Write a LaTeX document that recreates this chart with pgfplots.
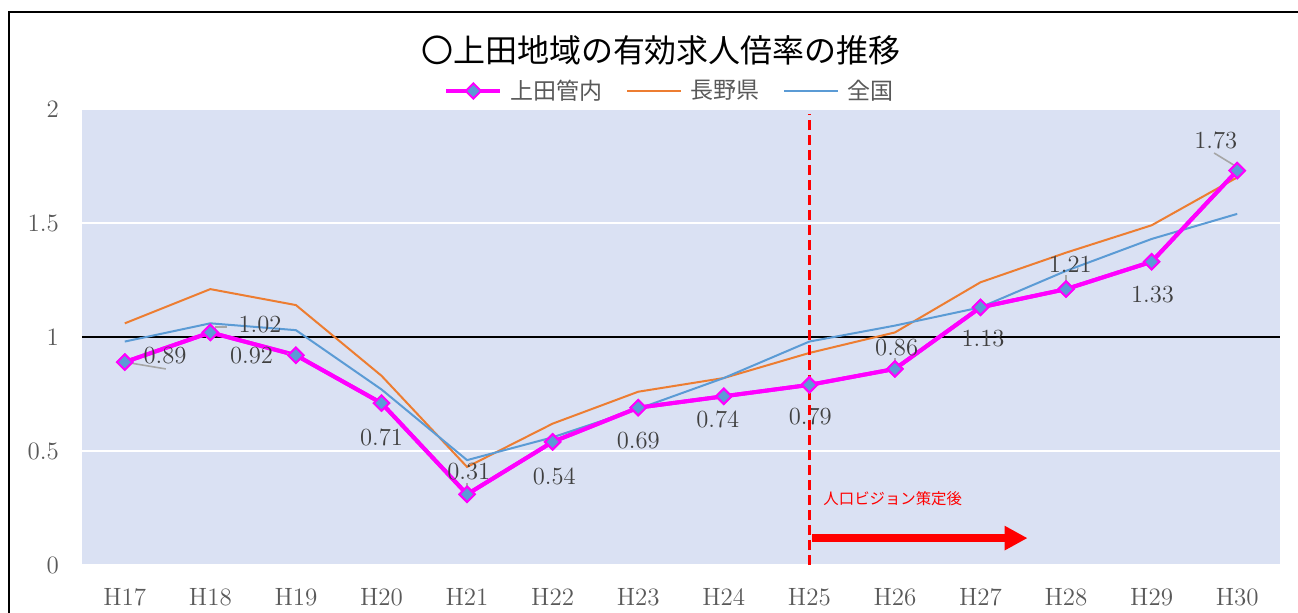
\documentclass[border=0pt]{standalone}
\usepackage{pgfplots}
\pgfplotsset{compat=1.18}
\usepackage{fontspec}
\newfontfamily\cjk{Noto Sans CJK JP}
\usetikzlibrary{arrows.meta}
\definecolor{plotbg}{HTML}{DAE1F3}
\definecolor{ueda}{HTML}{FF00FF}
\definecolor{nagano}{HTML}{ED7D31}
\definecolor{zenkoku}{HTML}{5B9BD5}
\definecolor{ticktext}{HTML}{595959}
\definecolor{lbltext}{HTML}{404040}
\definecolor{leader}{HTML}{A6A6A6}
\begin{document}
\begin{tikzpicture}
\useasboundingbox (-41pt,-23.5pt) rectangle (608pt,282.5pt);
\draw[black, line width=0.7pt] (-36.5pt,-30pt) -- (-36.5pt,276.5pt) -- (620pt,276.5pt);
\begin{axis}[
  at={(0,0)}, anchor=south west,
  scale only axis, width=599pt, height=228pt,
  xmin=-0.5, xmax=13.5, ymin=0, ymax=2,
  xtick={0,...,13},
  xticklabels={H17,H18,H19,H20,H21,H22,H23,H24,H25,H26,H27,H28,H29,H30},
  ytick={0,0.5,1,1.5,2},
  yticklabels={0,0.5,1,1.5,2},
  axis line style={draw=none},
  major tick length=0pt,
  axis background/.style={fill=plotbg},
  ymajorgrids,
  grid style={white, line width=1pt},
  extra y ticks={1},
  extra y tick labels={},
  extra y tick style={grid style={black, line width=1pt}},
  tick label style={font=\fontsize{12.5}{14}\selectfont, text=ticktext},
  yticklabel style={xshift=-8pt},
  xticklabel style={yshift=-8pt},
  legend columns=3,
  legend style={at={(0.4915,1.0395)}, anchor=center, draw=none, fill=none,
    font=\cjk\fontsize{11.5}{13}\selectfont, text=ticktext,
    /tikz/every even column/.append style={column sep=10pt},
    /tikz/every odd column/.append style={column sep=2pt},
    inner sep=0pt},
  legend cell align=left,
  legend image code/.code={\draw[mark repeat=2,mark phase=2,#1] plot coordinates {(0pt,0pt) (13.5pt,0pt) (27pt,0pt)};},
  clip=false,
]
\addplot[ueda, line width=2pt, mark=square*, mark size=2.7pt,
  mark options={fill=zenkoku, draw=ueda, line width=1pt, solid, rotate=45}]
  coordinates {(0,0.89) (1,1.02) (2,0.92) (3,0.71) (4,0.31) (5,0.54) (6,0.69)
               (7,0.74) (8,0.79) (9,0.86) (10,1.13) (11,1.21) (12,1.33) (13,1.73)};
\addlegendentry{上田管内}
\addplot[nagano, line width=1pt]
  coordinates {(0,1.06) (1,1.21) (2,1.14) (3,0.83) (4,0.43) (5,0.62) (6,0.76)
               (7,0.82) (8,0.93) (9,1.02) (10,1.24) (11,1.37) (12,1.49) (13,1.70)};
\addlegendentry{長野県}
\addplot[zenkoku, line width=1pt]
  coordinates {(0,0.98) (1,1.06) (2,1.03) (3,0.77) (4,0.46) (5,0.56) (6,0.685)
               (7,0.82) (8,0.98) (9,1.05) (10,1.13) (11,1.29) (12,1.43) (13,1.54)};
\addlegendentry{全国}
% re-draw Ueda on top
\addplot[ueda, line width=2pt, mark=square*, mark size=2.7pt,
  mark options={fill=zenkoku, draw=ueda, line width=1pt, solid, rotate=45}, forget plot]
  coordinates {(0,0.89) (1,1.02) (2,0.92) (3,0.71) (4,0.31) (5,0.54) (6,0.69)
               (7,0.74) (8,0.79) (9,0.86) (10,1.13) (11,1.21) (12,1.33) (13,1.73)};
% leader lines
\draw[leader, line width=0.8pt] (axis cs:0,0.89) -- (axis cs:0.48,0.86);
\draw[leader, line width=0.8pt] (axis cs:1.06,1.01) -- (axis cs:1.06,1.045) -- (axis cs:1.2,1.045);
\draw[leader, line width=0.8pt] (axis cs:1.9,0.925) -- (axis cs:2,0.925);
\draw[leader, line width=0.8pt] (axis cs:4,0.33) -- (axis cs:4,0.36);
\draw[leader, line width=0.8pt] (axis cs:9,0.88) -- (axis cs:9,0.91);
\draw[leader, line width=0.8pt] (axis cs:11,1.23) -- (axis cs:11,1.27);
\draw[leader, line width=0.8pt] (axis cs:12.73,1.807) -- (axis cs:13,1.745);
% data labels
\begin{scope}[every node/.style={font=\fontsize{12.3}{14}\selectfont, text=lbltext, inner sep=0pt}]
\node at (axis cs:0.47,0.917) {0.89};
\node at (axis cs:1.58,1.053) {1.02};
\node at (axis cs:1.48,0.917) {0.92};
\node at (axis cs:3.0,0.561) {0.71};
\node at (axis cs:4.02,0.408) {0.31};
\node at (axis cs:5.02,0.39) {0.54};
\node at (axis cs:6.0,0.546) {0.69};
\node at (axis cs:6.93,0.64) {0.74};
\node at (axis cs:8.01,0.65) {0.79};
\node at (axis cs:9.02,0.952) {0.86};
\node at (axis cs:10.03,0.991) {1.13};
\node at (axis cs:11.05,1.32) {1.21};
\node at (axis cs:12.01,1.184) {1.33};
\node at (axis cs:12.75,1.86) {1.73};
\end{scope}
% policy marker
\draw[red, line width=1.5pt, dash pattern=on 5pt off 2.5pt] (axis cs:8,0) -- (axis cs:8,1.98);
\draw[red, line width=4pt, -{Triangle[length=11.5pt,width=11.5pt]}] (axis cs:8.03,0.118) -- (axis cs:10.55,0.118);
\node[anchor=west, text=red, font=\cjk\fontsize{7.7}{9}\selectfont, inner sep=0pt] at (axis cs:8.16,0.29) {人口ビジョン策定後};
\end{axis}
\node[font=\cjk\fontsize{16}{18}\selectfont, text=black, inner sep=0pt] at (289.5pt,257.5pt) {〇上田地域の有効求人倍率の推移};
\end{tikzpicture}
\end{document}
